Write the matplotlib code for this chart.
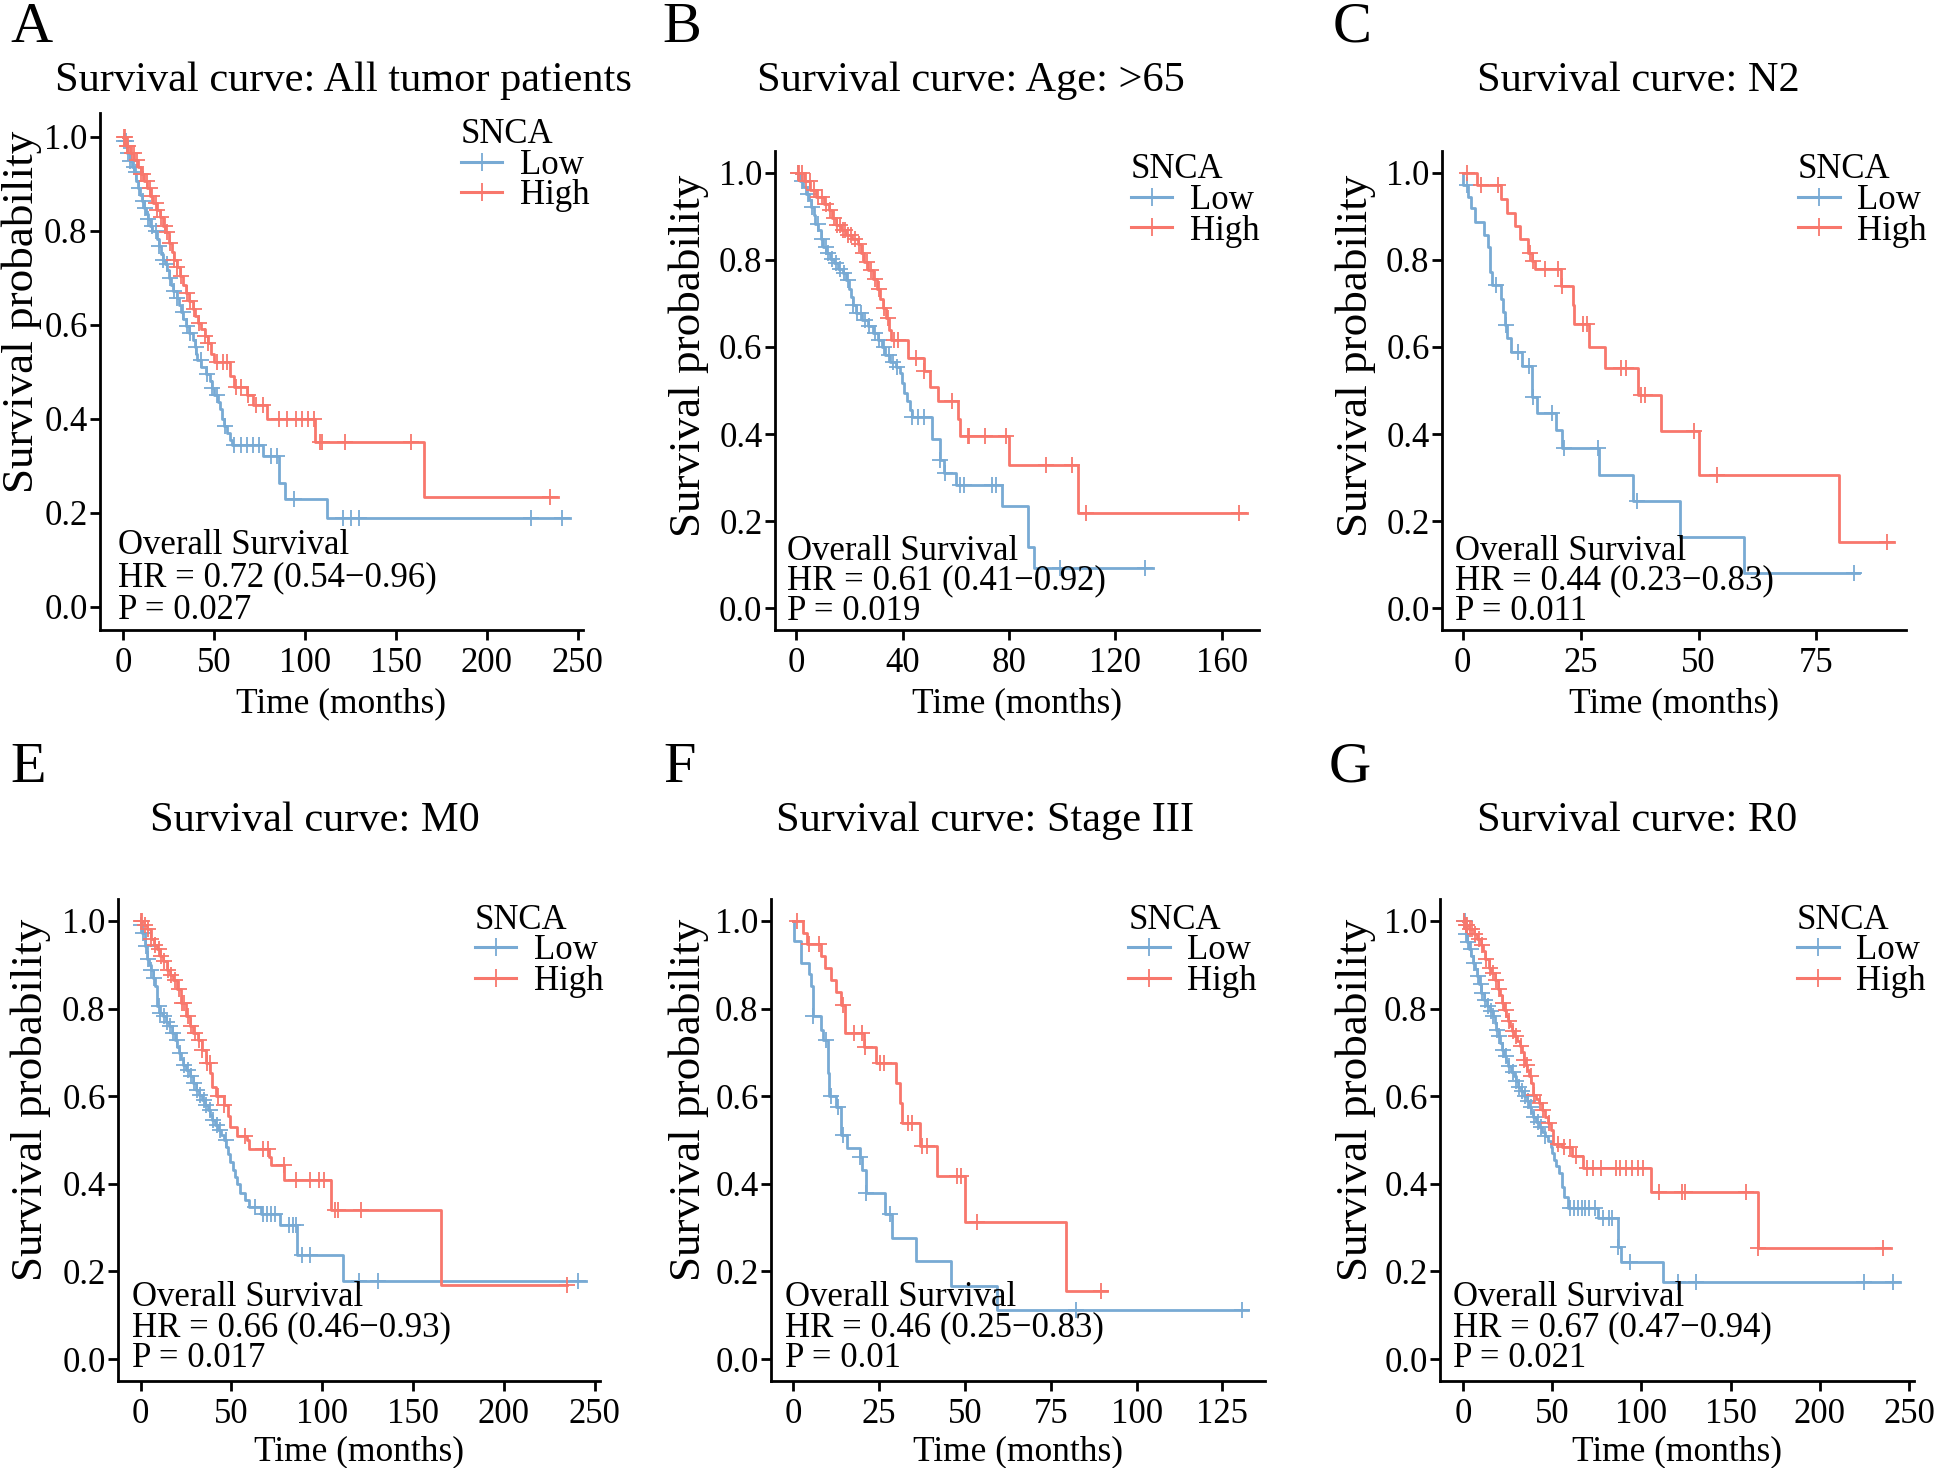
import numpy as np
import matplotlib
matplotlib.use('Agg')
import matplotlib.pyplot as plt
import matplotlib.transforms as mtransforms
from matplotlib.lines import Line2D

plt.rcParams['font.family'] = ['Liberation Serif', 'DejaVu Serif']

LOW_COLOR = '#78AAD4'
HIGH_COLOR = '#F8776C'

# ---- A: all tumor patients ----
a_low_t = [0.5, 2.2, 3.8, 5.0, 6.1, 7.2, 8.3, 9.5, 10.6, 11.7, 12.8, 14.0, 15.1, 16.2, 18.5, 19.6,
           20.7, 21.8, 23.0, 24.1, 25.2, 26.3, 27.5, 29.7, 30.9, 32.0, 33.1, 34.7, 36.5, 38.3, 39.4,
           40.3, 41.0, 43.2, 45.5, 47.7, 48.9, 50.0, 52.2, 53.4, 54.5, 55.6, 57.2, 59.0, 60.1, 77.0,
           86.0, 89.4, 112.0]
a_low_s = [0.99, 0.965, 0.947, 0.935, 0.924, 0.906, 0.891, 0.876, 0.862, 0.847, 0.836, 0.825, 0.81,
           0.799, 0.781, 0.766, 0.751, 0.737, 0.729, 0.715, 0.70, 0.685, 0.671, 0.656, 0.641, 0.626,
           0.612, 0.597, 0.582, 0.568, 0.553, 0.538, 0.524, 0.509, 0.494, 0.479, 0.465, 0.45, 0.435,
           0.421, 0.399, 0.384, 0.369, 0.354, 0.343, 0.321, 0.263, 0.229, 0.189]
a_low_cens = [0.5, 1.5, 3, 4, 6, 7, 9, 11, 12, 14, 16, 18, 20, 22, 24, 26, 28, 30, 33, 35, 37, 40,
              43, 46, 49, 52, 56, 61, 64.7, 68, 71.6, 75, 81.5, 85, 94, 121, 125.4, 130, 224.5, 241.4]
a_low_end = 246
a_high_t = [1.6, 3.8, 6.1, 8.3, 9.9, 11.7, 13.5, 15.1, 16.7, 18.5, 20.3, 21.8, 23.4, 25.2, 26.8,
            27.9, 29.7, 31.3, 33.1, 34.7, 36.5, 38.3, 39.9, 41.4, 43.2, 45.0, 46.6, 48.2, 50.0, 59.0,
            61.3, 68.0, 71.4, 79.3, 105.8, 165.3]
a_high_s = [0.979, 0.965, 0.95, 0.935, 0.921, 0.906, 0.891, 0.873, 0.858, 0.843, 0.829, 0.81, 0.796,
            0.774, 0.755, 0.737, 0.722, 0.704, 0.685, 0.667, 0.649, 0.634, 0.619, 0.604, 0.59, 0.575,
            0.56, 0.538, 0.52, 0.49, 0.468, 0.45, 0.428, 0.40, 0.349, 0.232]
a_high_cens = [0.5, 1, 2, 3, 5, 6, 8, 10, 11, 13, 15, 16, 18, 19, 21, 23, 24, 26, 28, 30, 32, 35,
               37, 39, 42, 45, 47, 52, 55, 57, 62, 65, 69, 73, 77, 86, 90.5, 95, 98.4, 101.8, 105,
               108.5, 109.7, 122, 158.5, 235]
a_high_end = 239

# ---- B: age > 65 ----
b_low_t = [1.5, 2.7, 3.75, 4.8, 5.7, 6.5, 7.2, 8.25, 9.3, 10.2, 11.25, 12.75, 14.25, 15.75, 17.7,
           18.75, 19.8, 20.7, 21.3, 22.5, 24.75, 27.0, 28.8, 30.75, 32.25, 33.3, 35.25, 37.5, 39.0,
           39.75, 40.5, 41.7, 42.75, 43.5, 51.0, 54.0, 55.5, 60.0, 77.25, 87.0, 89.25]
b_low_s = [0.982, 0.967, 0.952, 0.937, 0.921, 0.902, 0.883, 0.868, 0.849, 0.83, 0.815, 0.803, 0.792,
           0.78, 0.769, 0.753, 0.734, 0.715, 0.696, 0.677, 0.662, 0.647, 0.631, 0.616, 0.60, 0.582,
           0.566, 0.555, 0.54, 0.517, 0.494, 0.475, 0.456, 0.439, 0.389, 0.341, 0.311, 0.282, 0.234,
           0.141, 0.093]
b_low_cens = [0.5, 2, 4.5, 6, 8, 9.5, 11, 12, 13.5, 15, 16.5, 18, 19.5, 21.5, 23, 24.5, 26, 27.5,
              29.5, 31, 33, 35, 36.5, 38, 43.5, 45.75, 48, 54, 56, 61.5, 63, 73.5, 75, 99, 131]
b_low_end = 134
b_high_t = [3.0, 5.25, 7.5, 10.5, 12.3, 13.5, 15.0, 16.8, 18.75, 21.0, 23.25, 24.3, 25.5, 27.0,
            28.8, 30.3, 31.5, 32.7, 33.9, 34.8, 35.7, 42.0, 48.0, 50.25, 53.25, 60.75, 61.5, 80.0,
            105.75]
b_high_s = [0.982, 0.96, 0.944, 0.929, 0.914, 0.895, 0.879, 0.868, 0.856, 0.849, 0.837, 0.815, 0.795,
            0.776, 0.757, 0.734, 0.711, 0.689, 0.666, 0.639, 0.616, 0.574, 0.544, 0.509, 0.475,
            0.434, 0.396, 0.33, 0.219]
b_high_cens = [0.5, 1, 2, 3.5, 5, 6.5, 8, 9.5, 11, 12.5, 14, 15.5, 16.5, 17.5, 18.5, 19.5, 20.5, 22,
               23.5, 25, 26.5, 28, 29.5, 31, 33, 34.5, 36.75, 38.25, 45, 48, 58.5, 64.5, 65, 71,
               79, 94, 103.5, 109, 166.5]
b_high_end = 169.5

# ---- C: N2 ----
c_low_t = [0.1, 1.2, 1.8, 2.6, 4.6, 5.4, 5.8, 6.2, 8.2, 8.6, 9.0, 9.4, 10.2, 12.6, 14.6, 15.8, 19.8,
           21.0, 29.0, 36.0, 46.0, 59.6]
c_low_s = [0.972, 0.944, 0.918, 0.887, 0.858, 0.830, 0.771, 0.742, 0.711, 0.681, 0.650, 0.620, 0.589,
           0.556, 0.486, 0.448, 0.410, 0.368, 0.307, 0.246, 0.163, 0.082]
c_low_cens = [1.0, 7.0, 9.2, 11.8, 14.0, 15.0, 19.0, 21.4, 28.7, 37.0, 82.9]
c_low_end = 84
c_high_t = [3.0, 8.2, 9.4, 11.0, 12.2, 13.8, 14.6, 15.3, 20.8, 23.3, 23.6, 26.7, 30.1, 37.1, 42.0,
            50.0, 79.8]
c_high_s = [0.972, 0.940, 0.908, 0.877, 0.847, 0.816, 0.798, 0.780, 0.740, 0.696, 0.652, 0.600,
            0.551, 0.490, 0.408, 0.307, 0.153]
c_high_cens = [1.0, 3.8, 7.4, 14.2, 15.0, 17.4, 20.2, 21.0, 25.5, 26.3, 33.5, 34.7, 37.7, 38.7,
               49.0, 54.0, 90.0]
c_high_end = 91.5

# ---- E: M0 ----
e_low_t = [0.5, 1, 2.3, 3.4, 4.5, 5.6, 7, 8, 9, 10.5, 12.4, 14, 15.8, 17.5, 19, 20.3, 21.4, 22.5,
           23.6, 25.3, 27, 28.7, 30.4, 32, 33.8, 35.5, 37, 38.2, 39.4, 41, 42.8, 44.5, 46, 47.3, 48.4,
           49.5, 50.7, 52, 53, 55, 57.4, 59.7, 66.4, 76.6, 86, 111.5]
e_low_s = [0.99, 0.973, 0.943, 0.912, 0.90, 0.889, 0.87, 0.851, 0.805, 0.79, 0.782, 0.77, 0.76,
           0.745, 0.729, 0.713, 0.698, 0.685, 0.672, 0.659, 0.645, 0.63, 0.614, 0.603, 0.592, 0.58,
           0.569, 0.557, 0.546, 0.535, 0.523, 0.511, 0.50, 0.485, 0.469, 0.45, 0.431, 0.415, 0.40,
           0.378, 0.363, 0.347, 0.332, 0.305, 0.237, 0.179]
e_low_cens = [0.5, 1.5, 3, 4, 6, 7.5, 10, 11, 13, 14.5, 16.5, 18, 20, 22, 24, 26, 28, 29.5, 31, 33,
              35, 36, 38, 40, 42, 44, 47, 63, 67.6, 69.8, 72, 74.3, 82, 83.8, 85.6, 89, 93.5,
              120.5, 130.6, 241]
e_low_end = 245.5
e_high_t = [2, 3.4, 5.6, 7.5, 9, 11, 12.4, 14.6, 16.5, 18, 20.3, 22.5, 24.8, 27, 29, 31.5, 33.8,
            36, 38.3, 39.4, 41.7, 46, 48, 49.5, 53, 58.5, 59.7, 71, 72, 79, 104.7, 165.5]
e_high_s = [0.99, 0.981, 0.958, 0.945, 0.935, 0.92, 0.908, 0.889, 0.876, 0.866, 0.844, 0.813,
            0.782, 0.76, 0.744, 0.729, 0.706, 0.676, 0.653, 0.622, 0.60, 0.58, 0.555, 0.53, 0.508,
            0.50, 0.479, 0.462, 0.444, 0.408, 0.34, 0.17]
e_high_cens = [0.5, 1, 2.5, 4, 6, 8, 10, 11.5, 13, 15, 17, 19, 21, 23, 24, 26, 28, 30, 32, 34, 36.5,
               38, 42.8, 46, 57.4, 67.6, 70, 78.8, 85.6, 93.5, 98, 101.3, 107, 109, 121.6, 235]
e_high_end = 235

# ---- F: stage III ----
f_low_t = [0.1, 2.2, 4.6, 5.2, 5.8, 8.1, 8.7, 10.0, 10.4, 12.3, 14.0, 15.6, 19.3, 19.9, 21.1, 26.8,
           28.8, 35.8, 45.9, 59.4]
f_low_s = [0.954, 0.905, 0.878, 0.851, 0.782, 0.752, 0.729, 0.653, 0.600, 0.576, 0.511, 0.481,
           0.462, 0.431, 0.379, 0.332, 0.276, 0.223, 0.166, 0.111]
f_low_cens = [5.8, 9.5, 11.1, 12.9, 14.6, 19.3, 21.3, 28.2, 82.4, 130.7]
f_low_end = 132.5
f_high_t = [2.8, 4.0, 8.1, 9.3, 11.1, 12.3, 14.0, 15.2, 20.5, 24.0, 29.9, 31.1, 31.7, 37.0, 42.0,
            50.0, 79.5]
f_high_s = [0.973, 0.947, 0.920, 0.893, 0.866, 0.837, 0.809, 0.745, 0.712, 0.676, 0.631, 0.584,
            0.538, 0.486, 0.418, 0.313, 0.156]
f_high_cens = [1.0, 4.6, 7.5, 14.6, 17.6, 19.9, 21.0, 25.2, 26.4, 33.5, 34.7, 37.6, 38.8, 47.6,
               48.8, 53.5, 89.5]
f_high_end = 91.5

# ---- G: R0 ----
g_low_t = [1.5, 2.5, 3.7, 4.8, 5.8, 7, 8, 9, 10.2, 11.8, 13.4, 15, 16.7, 17.8, 18.8, 20, 21, 22,
           23.2, 24.3, 25.3, 27, 28.6, 29.7, 30.8, 32.4, 34, 35.7, 37.3, 38.3, 39.4, 41, 42.7, 44.4,
           46, 47.6, 49.2, 50.2, 51.3, 52.4, 54, 55.7, 56.7, 58.9, 76, 87, 88.8, 112]
g_low_s = [0.969, 0.952, 0.935, 0.92, 0.905, 0.89, 0.874, 0.855, 0.836, 0.82, 0.805, 0.794, 0.782,
           0.767, 0.752, 0.737, 0.721, 0.706, 0.691, 0.68, 0.668, 0.656, 0.645, 0.634, 0.622, 0.611,
           0.60, 0.588, 0.576, 0.565, 0.553, 0.541, 0.53, 0.519, 0.508, 0.497, 0.485, 0.47, 0.454,
           0.44, 0.424, 0.393, 0.37, 0.344, 0.321, 0.256, 0.221, 0.176]
g_low_cens = [0.5, 1, 2, 3, 4.5, 6.5, 8.5, 10, 11, 12.5, 14, 15.5, 17, 19, 20.5, 22.5, 24, 26, 28,
              30, 31.5, 33, 35, 36.5, 38, 40, 42, 44, 46, 60, 62.2, 64.3, 66.5, 68.7, 70.8, 74,
              78.4, 81.7, 83.8, 87, 93.6, 120.6, 130.4, 224.6, 240.9]
g_low_end = 245
g_high_t = [1, 3.7, 6, 8, 10, 11.3, 12.3, 14.5, 16, 17.8, 19.9, 21, 22.1, 23.2, 24.3, 25.3, 26.4,
            27.5, 28.6, 30.2, 31.8, 33, 34, 35, 36.2, 37.3, 38.3, 39.4, 41, 42.7, 44.4, 46, 47.6,
            49.2, 50.3, 55.7, 61, 67.6, 105.5, 165.5]
g_high_s = [0.99, 0.981, 0.97, 0.958, 0.945, 0.931, 0.912, 0.893, 0.88, 0.866, 0.844, 0.83, 0.813,
            0.797, 0.782, 0.771, 0.76, 0.748, 0.737, 0.725, 0.714, 0.70, 0.683, 0.672, 0.66, 0.645,
            0.63, 0.603, 0.594, 0.584, 0.568, 0.553, 0.538, 0.523, 0.492, 0.485, 0.463, 0.437,
            0.382, 0.254]
g_high_cens = [0.5, 1.5, 2.5, 4, 5, 7, 9, 11, 13, 15, 17, 18.5, 20.5, 22.5, 24, 26, 28, 30, 32.5,
               34.5, 36, 38, 40, 43, 45, 48, 53.5, 56.7, 60, 63.2, 69.7, 73, 77.3, 86, 88.2, 91.4,
               94.7, 97.9, 101.2, 109.8, 122.8, 124.3, 158.5, 165.5, 235.4]
g_high_end = 239.8

letters = ['A', 'B', 'C', 'E', 'F', 'G']
titles = ['Survival curve: All tumor patients', 'Survival curve: Age: >65', 'Survival curve: N2',
          'Survival curve: M0', 'Survival curve: Stage III', 'Survival curve: R0']
hr_text = ['HR = 0.72 (0.54\u22120.96)', 'HR = 0.61 (0.41\u22120.92)', 'HR = 0.44 (0.23\u22120.83)',
           'HR = 0.66 (0.46\u22120.93)', 'HR = 0.46 (0.25\u22120.83)', 'HR = 0.67 (0.47\u22120.94)']
p_text = ['P = 0.027', 'P = 0.019', 'P = 0.011', 'P = 0.017', 'P = 0.01', 'P = 0.021']
xticks = [[0, 50, 100, 150, 200, 250], [0, 40, 80, 120, 160], [0, 25, 50, 75],
          [0, 50, 100, 150, 200, 250], [0, 25, 50, 75, 100, 125], [0, 50, 100, 150, 200, 250]]
xlims = [(-12.6, 253), (-8, 174), (-4.4, 94), (-12.4, 253), (-6.5, 137.4), (-12.8, 252.8)]

curves = [
    (a_low_t, a_low_s, a_low_cens, a_low_end, a_high_t, a_high_s, a_high_cens, a_high_end),
    (b_low_t, b_low_s, b_low_cens, b_low_end, b_high_t, b_high_s, b_high_cens, b_high_end),
    (c_low_t, c_low_s, c_low_cens, c_low_end, c_high_t, c_high_s, c_high_cens, c_high_end),
    (e_low_t, e_low_s, e_low_cens, e_low_end, e_high_t, e_high_s, e_high_cens, e_high_end),
    (f_low_t, f_low_s, f_low_cens, f_low_end, f_high_t, f_high_s, f_high_cens, f_high_end),
    (g_low_t, g_low_s, g_low_cens, g_low_end, g_high_t, g_high_s, g_high_cens, g_high_end),
]

# layout in pixels: axes box (left, top, width, height), letter pos, title centre, ylabel centre
W, H = 1944, 1468
boxes = [(100, 113, 483, 517), (775, 151, 484, 479), (1442, 151, 464, 479),
         (118, 899, 482, 482), (771, 899, 494, 482), (1440, 899, 474, 482)]
letter_pos = [(10, 2), (662, 2), (1333, 2), (10, 742), (663, 742), (1329, 742)]
title_pos = [(343, 81), (971, 81), (1638, 81), (315, 821), (985, 821), (1637, 821)]
ylab_pos = [(22, 312), (689, 356), (1356, 356), (31, 1100), (689, 1100), (1356, 1100)]
legend_anchor = [(0.747, 0.99), (0.735, 0.995), (0.767, 0.995),
                 (0.74, 0.99), (0.723, 0.99), (0.753, 0.99)]
note_x = [0.037, 0.025, 0.027, 0.029, 0.028, 0.027]
note_y0 = [-0.008, -0.008, -0.008, 0.002, 0.002, 0.002]
xlabel_pad = [5.2, 5.2, 5.2, 3.4, 3.4, 3.4]

fig = plt.figure(figsize=(W / 100, H / 100), dpi=100)


def km_line(times, surv, t_end):
    x = np.concatenate([[0], times, [t_end]])
    y = np.concatenate([[1.0], surv, [surv[-1]]])
    return x, y


def cens_y(times, surv, cens):
    idx = np.searchsorted(times, cens, side='right') - 1
    s = np.asarray(surv)
    return np.where(idx >= 0, s[np.clip(idx, 0, None)], 1.0)


for i in range(6):
    l, t, w, h = boxes[i]
    ax = fig.add_axes([l / W, 1 - (t + h) / H, w / W, h / H])
    lt, ls, lc, le, ht, hs, hc, he = curves[i]
    for (tt, ss, cc, ee, col) in [(lt, ls, lc, le, LOW_COLOR), (ht, hs, hc, he, HIGH_COLOR)]:
        x, y = km_line(tt, ss, ee)
        ax.step(x, y, where='post', color=col, lw=2.0)
        ax.plot(cc, cens_y(tt, ss, cc), ls='none', marker='+', color=col, ms=11, mew=1.3)

    ax.set_xlim(*xlims[i])
    ax.set_ylim(-0.05, 1.05)
    ax.set_xticks(xticks[i])
    ax.set_yticks([0, 0.2, 0.4, 0.6, 0.8, 1.0])
    ax.set_yticklabels(['0.0', '0.2', '0.4', '0.6', '0.8', '1.0'])
    for side in ['top', 'right']:
        ax.spines[side].set_visible(False)
    for side in ['left', 'bottom']:
        ax.spines[side].set_linewidth(2.0)
    ax.tick_params(labelsize=25, length=7, width=2.0, color='black')
    ax.tick_params(axis='x', pad=5)
    ax.tick_params(axis='y', pad=2)
    ax.set_xlabel('Time (months)', fontsize=25.5, labelpad=xlabel_pad[i])
    fig.text(ylab_pos[i][0] / W, 1 - ylab_pos[i][1] / H, 'Survival probability', fontsize=32.5,
             rotation=90, ha='center', va='center')

    trans = mtransforms.blended_transform_factory(ax.transAxes, ax.transData)
    y0 = note_y0[i]
    for yy, txt in [(y0 + 0.138, 'Overall Survival'), (y0 + 0.07, hr_text[i]), (y0, p_text[i])]:
        ax.text(note_x[i], yy, txt, transform=trans, fontsize=25, ha='left', va='center')

    handles = [Line2D([], [], color=LOW_COLOR, lw=2.2, marker='+', ms=13, mew=1.3),
               Line2D([], [], color=HIGH_COLOR, lw=2.2, marker='+', ms=13, mew=1.3)]
    ax.legend(handles, ['Low', 'High'], title='SNCA', loc='upper left',
              bbox_to_anchor=legend_anchor[i], frameon=False, fontsize=25,
              title_fontsize=25, handlelength=1.2, handletextpad=0.5, labelspacing=-0.07,
              borderpad=0, borderaxespad=0, alignment='left')

    fig.text(letter_pos[i][0] / W, 1 - letter_pos[i][1] / H, letters[i], fontsize=42,
             ha='left', va='top')
    fig.text(title_pos[i][0] / W, 1 - title_pos[i][1] / H, titles[i], fontsize=30.5,
             ha='center', va='center')

fig.savefig('out.png', dpi=100)
